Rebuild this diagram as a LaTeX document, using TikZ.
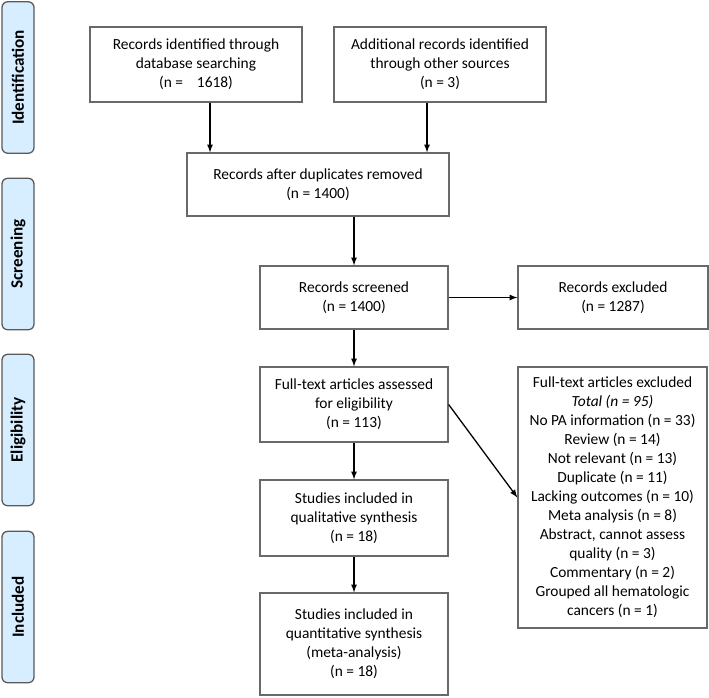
\documentclass[tikz,border=0pt]{standalone}
\usepackage{fontspec}
\setmainfont{Carlito}
\usetikzlibrary{arrows,positioning}
\definecolor{phaseblue}{RGB}{214,238,255}
\definecolor{phaseedge}{RGB}{90,90,90}
\definecolor{boxedge}{RGB}{105,105,105}

\begin{document}
\begin{tikzpicture}[x=0.7pt,y=-0.7pt,
    box/.style={draw=boxedge, line width=0.9pt, align=center, inner sep=0pt,
        font=\fontsize{10.8}{13.3}\selectfont},
    phase/.style={draw=phaseedge, fill=phaseblue, rounded corners=4pt, line width=0.9pt,
        rotate=90, minimum width=106pt, minimum height=22.4pt,
        font=\fontsize{12}{14}\selectfont\bfseries},
    arr/.style={-latex, line width=0.9pt}]
    \useasboundingbox (0,0) rectangle (709,697);

    % Phase labels
    \foreach \n/\y/\t in {ident/77.5/Identification, screen/254/Screening,
                          elig/430/Eligibility, incl/607/Included} {
        \node[phase] (\n) at (18,\y) {\t};
    }

    % Identification
    \node[box, minimum width=148.4pt, minimum height=52.5pt] (db) at (196,64.5)
        {Records identified through\\database searching\\(n =\hspace{0.9em}1618)};
    \node[box, minimum width=148.4pt, minimum height=52.5pt] (other) at (440,64.5)
        {Additional records identified\\through other sources\\(n = 3)};

    % Screening
    \node[box, minimum width=183.4pt, minimum height=44.1pt] (dup) at (318,184.5)
        {Records after duplicates removed\\(n = 1400)};
    \node[box, minimum width=131.6pt, minimum height=44.1pt] (screened) at (354,297.5)
        {Records screened\\(n = 1400)};
    \node[box, minimum width=133pt, minimum height=44.1pt] (excl) at (613,297.5)
        {Records excluded\\(n = 1287)};

    % Eligibility
    \node[box, minimum width=131.6pt, minimum height=52.5pt] (full) at (354,404.5)
        {Full-text articles assessed\\for eligibility\\(n = 113)};
    \node[box, minimum width=132.3pt, minimum height=182.7pt] (exlist) at (612.5,497.5)
        {Full-text articles excluded\\\textit{Total (n = 95)}\\No PA information (n = 33)\\
         Review (n = 14)\\Not relevant (n = 13)\\Duplicate (n = 11)\\
         Lacking outcomes (n = 10)\\Meta analysis (n = 8)\\Abstract, cannot assess\\
         quality (n = 3)\\Commentary (n = 2)\\Grouped all hematologic\\cancers (n = 1)};

    % Included
    \node[box, minimum width=131.6pt, minimum height=53.2pt] (qual) at (354,518)
        {Studies included in\\qualitative synthesis\\(n = 18)};
    \node[box, minimum width=131.6pt, minimum height=71.4pt] (quant) at (354,644)
        {Studies included in\\quantitative synthesis\\(meta-analysis)\\(n = 18)};

    % Arrows
    \coordinate (c1) at (210,0);
    \coordinate (c2) at (427,0);
    \draw[arr] (c1 |- db.south) -- (c1 |- dup.north);
    \draw[arr] (c2 |- other.south) -- (c2 |- dup.north);
    \draw[arr] (screened.north |- dup.south) -- (screened.north);
    \draw[arr] (screened) -- (excl);
    \draw[arr] (screened) -- (full);
    \draw[arr] (full.east) -- (exlist.west);
    \draw[arr] (full) -- (qual);
    \draw[arr] (qual) -- (quant);
\end{tikzpicture}
\end{document}
